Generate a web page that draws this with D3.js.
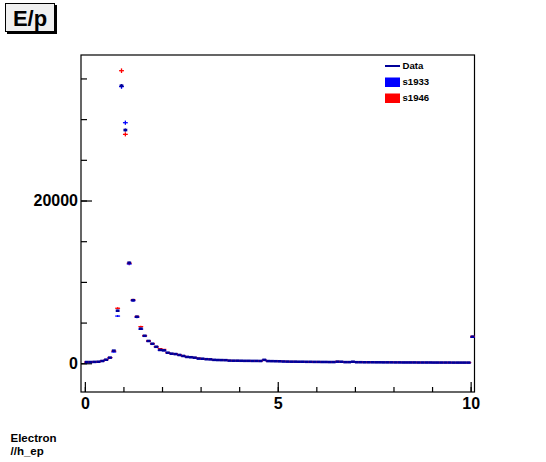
<!DOCTYPE html>
<html>
<head>
<meta charset="utf-8">
<script src="https://cdn.jsdelivr.net/npm/d3@7"></script>
<style>
	body { margin: 0; background: #fff; }
	text { font-family: "Liberation Sans", Arial, sans-serif; font-weight: bold; }
</style>
</head>
<body>
<div id="chart"></div>
<script>
// E/p histogram, 102 bins of width 0.1 from -0.1 to 10.1
const binLow = -0.1;
const binWidth = 0.1;

const dataCounts = [
	0, 150, 150, 170, 190, 280, 440, 690, 1550, 6460,
	34100, 28660, 12350, 7750, 5720, 4250, 3380, 2740, 2400, 2030,
	1640, 1590, 1300, 1180, 1130, 1020, 900, 780, 740, 690,
	580, 560, 500, 480, 420, 400, 390, 380, 330, 320,
	320, 310, 300, 300, 290, 290, 280, 420, 270, 260,
	250, 240, 220, 210, 200, 200, 190, 190, 180, 180,
	170, 170, 160, 160, 150, 150, 200, 190, 140, 140,
	190, 130, 130, 120, 120, 120, 115, 115, 110, 110,
	110, 105, 105, 100, 100, 100, 100, 95, 95, 95,
	95, 90, 90, 90, 90, 90, 85, 85, 85, 85,
	85, 3270
];

const s1933Counts = [
	0, 140, 150, 180, 190, 260, 430, 700, 1390, 5800,
	34000, 29560, 12200, 7700, 5650, 4200, 3350, 2700, 2380, 2000,
	1600, 1560, 1280, 1170, 1120, 1000, 880, 770, 730, 680,
	560, 550, 490, 470, 410, 390, 380, 370, 320, 310,
	310, 300, 290, 290, 280, 280, 270, 400, 260, 250,
	240, 230, 210, 200, 190, 190, 180, 180, 170, 170,
	160, 160, 150, 150, 140, 140, 180, 180, 130, 130,
	170, 125, 125, 115, 115, 115, 110, 110, 105, 105,
	105, 100, 100, 95, 95, 95, 95, 90, 90, 90,
	90, 85, 85, 85, 85, 85, 80, 80, 80, 80,
	80, 3200
];

const s1946Counts = [
	0, 150, 160, 170, 200, 290, 450, 700, 1500, 6760,
	35950, 28130, 12300, 7800, 5750, 4500, 3400, 2760, 2420, 2050,
	1800, 1700, 1310, 1190, 1150, 1040, 910, 800, 750, 700,
	620, 570, 510, 490, 430, 410, 400, 390, 340, 330,
	330, 320, 310, 310, 300, 300, 290, 380, 280, 270,
	260, 250, 230, 220, 210, 210, 200, 200, 190, 190,
	180, 180, 170, 170, 160, 160, 230, 200, 160, 150,
	170, 135, 135, 125, 125, 125, 120, 120, 115, 115,
	115, 110, 110, 105, 105, 105, 105, 100, 100, 100,
	100, 95, 95, 95, 95, 95, 90, 90, 90, 90,
	90, 3300
];

const xMajorTicks = [0, 5, 10];
const xMinorTicks = [0, 1, 2, 3, 4, 5, 6, 7, 8, 9, 10];
const yMajorTicks = [0, 20000];
const yMinorTicks = [0, 5000, 10000, 15000, 20000, 25000, 30000, 35000];

const legendItems = [
	{label: "Data", color: "#000099", kind: "line"},
	{label: "s1933", color: "#0000ff", kind: "box"},
	{label: "s1946", color: "#ff0000", kind: "box"}
];

const width = 546, height = 462;
const frame = {left: 81, right: 474.5, top: 55, bottom: 392};

const svg = d3.select("#chart")
	.append("svg")
	.attr("width", width)
	.attr("height", height);

svg.append("rect")
	.attr("width", width)
	.attr("height", height)
	.attr("fill", "#fff");

const x = d3.scaleLinear()
	.domain([-0.1, 10.1])
	.range([frame.left, frame.right]);

const y = d3.scaleLinear()
	.domain([-3530, 37880])
	.range([frame.bottom, frame.top]);

// frame
svg.append("rect")
	.attr("x", frame.left)
	.attr("y", frame.top)
	.attr("width", frame.right - frame.left)
	.attr("height", frame.bottom - frame.top)
	.attr("fill", "none")
	.attr("stroke", "#000")
	.attr("stroke-width", 1.2);

// axes, ticks pointing into the frame
const xMinor = svg.append("g")
	.attr("transform", `translate(0,${frame.bottom})`)
	.call(d3.axisBottom(x).tickValues(xMinorTicks).tickSizeInner(-5).tickSizeOuter(0).tickFormat(""));

const xMajor = svg.append("g")
	.attr("transform", `translate(0,${frame.bottom})`)
	.call(d3.axisBottom(x).tickValues(xMajorTicks).tickSizeInner(-10).tickSizeOuter(0).tickPadding(6).tickFormat(d3.format("d")));

const yMinor = svg.append("g")
	.attr("transform", `translate(${frame.left},0)`)
	.call(d3.axisLeft(y).tickValues(yMinorTicks).tickSizeInner(-6).tickSizeOuter(0).tickFormat(""));

const yMajor = svg.append("g")
	.attr("transform", `translate(${frame.left},0)`)
	.call(d3.axisLeft(y).tickValues(yMajorTicks).tickSizeInner(-11).tickSizeOuter(0).tickPadding(3).tickFormat(d3.format("d")));

[xMinor, xMajor, yMinor, yMajor].forEach(g => {
	g.select(".domain").remove();
	g.selectAll("line").attr("stroke", "#000").attr("stroke-width", 1.2);
	g.selectAll("text")
		.attr("fill", "#000")
		.style("font-size", "16px")
		.style("font-family", "'Liberation Sans', Arial, sans-serif")
		.style("font-weight", "bold");
});

// histogram markers: horizontal bin-width bar plus statistical error bar (k * sqrt(N))
function drawSeries(counts, color, barWidth, errScale, extra) {
	const g = svg.append("g").attr("stroke", color);
	const bins = counts.map((v, i) => ({lo: binLow + i * binWidth, hi: binLow + (i + 1) * binWidth, v: v}))
		.filter(d => d.v > 0);
	const err = d => errScale * Math.sqrt(d.v);

	g.selectAll("line.h")
		.data(bins).enter()
		.append("line")
		.attr("class", "h")
		.attr("x1", d => x(d.lo) - extra)
		.attr("x2", d => x(d.hi) + extra)
		.attr("y1", d => y(d.v))
		.attr("y2", d => y(d.v))
		.attr("stroke-width", barWidth);

	g.selectAll("line.v")
		.data(bins).enter()
		.append("line")
		.attr("class", "v")
		.attr("x1", d => x((d.lo + d.hi) / 2))
		.attr("x2", d => x((d.lo + d.hi) / 2))
		.attr("y1", d => y(d.v + err(d)))
		.attr("y2", d => y(d.v - err(d)))
		.attr("stroke-width", 1.3);
}

drawSeries(s1933Counts, "#0000ff", 1.3, 1.5, 0.5);
drawSeries(s1946Counts, "#ff0000", 1.3, 1.5, 0.5);
drawSeries(dataCounts, "#000099", 2.6, 1.1, 0);

// legend (no border)
const legend = svg.append("g");
legendItems.forEach((item, i) => {
	const cy = 66 + i * 16;
	if (item.kind === "line") {
		legend.append("line")
			.attr("x1", 385).attr("x2", 400)
			.attr("y1", cy).attr("y2", cy)
			.attr("stroke", item.color)
			.attr("stroke-width", 2);
	} else {
		legend.append("rect")
			.attr("x", 385).attr("y", cy - 4.5)
			.attr("width", 15).attr("height", 9.5)
			.attr("fill", item.color);
	}
	legend.append("text")
		.attr("x", 402.5)
		.attr("y", cy + 3.4)
		.attr("font-size", 9.6)
		.text(item.label);
});

// title box with shadow
svg.append("rect")
	.attr("x", 7).attr("y", 5)
	.attr("width", 50).attr("height", 29)
	.attr("fill", "#000");
svg.append("rect")
	.attr("x", 5.5).attr("y", 3.5)
	.attr("width", 49).attr("height", 28)
	.attr("fill", "#f0f0f0")
	.attr("stroke", "#000")
	.attr("stroke-width", 1);
svg.append("text")
	.attr("x", 30).attr("y", 25.5)
	.attr("text-anchor", "middle")
	.attr("font-size", 22)
	.text("E/p");

// bottom-left labels
svg.append("text")
	.attr("x", 10.5).attr("y", 441.5)
	.attr("font-size", 11.5)
	.text("Electron");
svg.append("text")
	.attr("x", 10.5).attr("y", 455)
	.attr("font-size", 11.5)
	.text("//h_ep");
</script>
</body>
</html>
